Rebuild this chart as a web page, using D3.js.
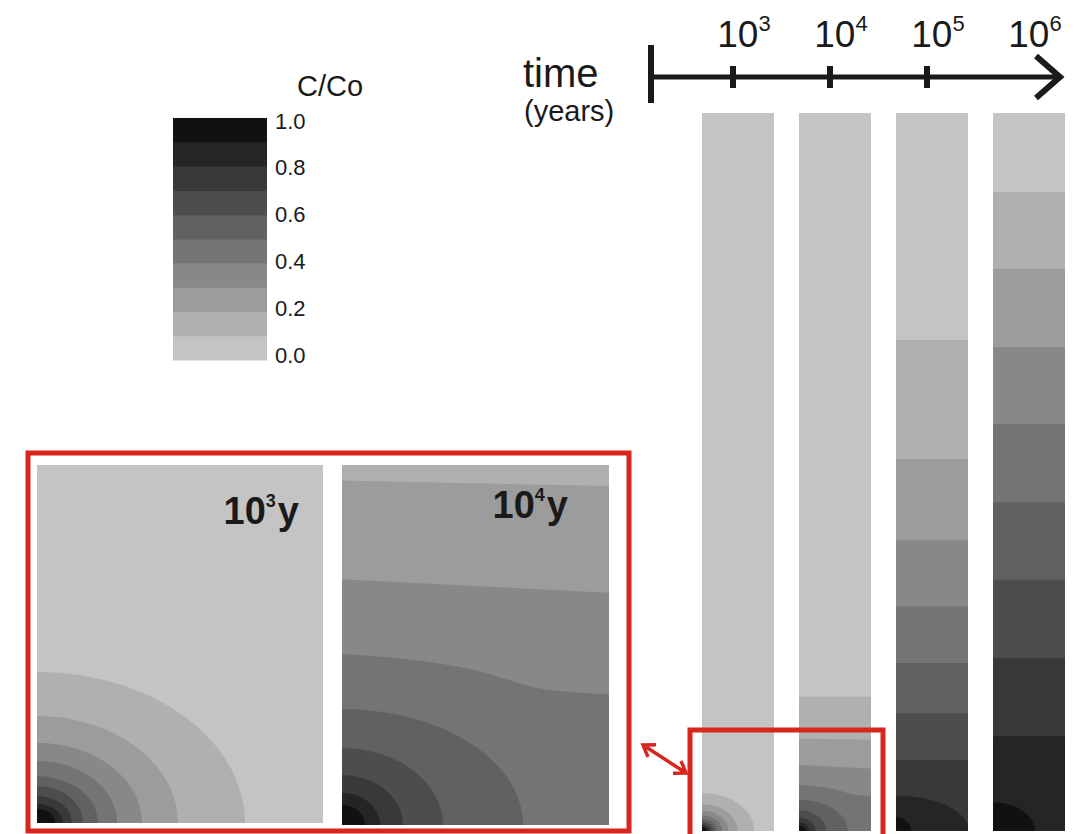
<!DOCTYPE html>
<html>
<head>
<meta charset="utf-8">
<script src="https://cdn.jsdelivr.net/npm/d3@7"></script>
<style>
  body { margin: 0; background: #fff; }
  text { font-family: "Liberation Sans", Arial, sans-serif; fill: #1a1a1a; }
</style>
</head>
<body>
<script>
// time steps (years) and the exponent shown on the axis
var times = [1e3, 1e4, 1e5, 1e6];
var exponents = ["3", "4", "5", "6"];

// C/Co contour levels (lower bound of each shaded band) and legend labels
var levels = [0, 0.1, 0.2, 0.3, 0.4, 0.5, 0.6, 0.7, 0.8, 0.9];
var legendTicks = [0, 0.2, 0.4, 0.6, 0.8, 1.0];

// horizontal fronts: height above source (m) sampled across the width, for levels 0.1, 0.2 ...
var fronts3 = [];
var fronts4 = [[18.7, 18.7], [12.9, 12.7], [9.2, 8.7], [6.4, 6.2, 5.8, 5.1, 4.9]];
var fronts5 = [[68.4], [51.8], [40.5], [31.3], [23.4], [16.4], [9.9]];
var fronts6 = [[89.0], [78.3], [67.4], [56.7], [45.8], [35.0], [24.1], [13.2]];

// plume rings round the source [rx, ry] (m) for the remaining levels
var rings3 = [[7.27, 5.28], [4.93, 3.74], [3.67, 2.8], [2.8, 2.17], [2.13, 1.64],
  [1.61, 1.29], [1.22, 0.94], [0.91, 0.66], [0.63, 0.49]];
var rings4 = [[6.78, 4.34], [3.78, 2.88], [2.28, 1.87], [1.42, 1.2], [0.86, 0.75]];
var rings5 = [[10.1, 4.9], [2.1, 1.9]];
var rings6 = [[5.8, 4.0]];

var fronts = [fronts3, fronts4, fronts5, fronts6];
var rings = [rings3, rings4, rings5, rings6];

var red = "#d8261f";

var svg = d3.select("body").append("svg")
  .attr("width", 1075)
  .attr("height", 834);

var defs = svg.append("defs");

// grey ramp of the contour bands
var shade = d3.scaleLinear().domain([0, 0.9]).range(["#c4c4c4", "#111111"]);

// draws one contour field into a box given its x / y scales
function drawField(name, front, ring, x, y) {
  var x0 = x.range()[0], x1 = x.range()[1];
  var yTop = y.range()[1], yBot = y.range()[0];

  defs.append("clipPath").attr("id", name)
    .append("rect")
    .attr("x", x0).attr("y", yTop)
    .attr("width", x1 - x0).attr("height", yBot - yTop);

  var g = svg.append("g").attr("clip-path", "url(#" + name + ")");

  g.append("rect")
    .attr("x", x0).attr("y", yTop)
    .attr("width", x1 - x0).attr("height", yBot - yTop)
    .attr("fill", shade(levels[0]));

  var xMax = x.domain()[1];
  var area = d3.area()
    .x(function (d) { return x(d[0]); })
    .y0(y(0))
    .y1(function (d) { return y(d[1]); })
    .curve(d3.curveMonotoneX);

  front.forEach(function (h, i) {
    var pts = h.length === 1 ? [[0, h[0]], [xMax, h[0]]]
      : h.map(function (v, j) { return [j * xMax / (h.length - 1), v]; });
    g.append("path")
      .attr("d", area(pts))
      .attr("fill", shade(levels[i + 1]));
  });

  var line = d3.line()
    .x(function (d) { return x(d[0]); })
    .y(function (d) { return y(d[1]); });

  ring.forEach(function (r, j) {
    var pts = [[0, 0]].concat(d3.range(0, 91, 3).map(function (a) {
      var t = a * Math.PI / 180;
      return [r[0] * Math.cos(t), r[1] * Math.sin(t)];
    }));
    g.append("path")
      .attr("d", line(pts) + "Z")
      .attr("fill", shade(levels[front.length + j + 1]));
  });
}

// main columns
var colLeft = d3.scalePoint().domain(times).range([702, 993]);
var colWidth = 72;

times.forEach(function (t, i) {
  var x = d3.scaleLinear().domain([0, 10]).range([colLeft(t), colLeft(t) + colWidth]);
  var y = d3.scaleLinear().domain([0, 100]).range([831, 113]);
  drawField("col" + i, fronts[i], rings[i], x, y);
});

// zoomed panels of the first two columns
var panels = [
  { x0: 37, x1: 323, y0: 465, y1: 823, label: "3", lx: 299, ly: 524 },
  { x0: 342, x1: 609, y0: 465, y1: 825, label: "4", lx: 568, ly: 518 }
];

panels.forEach(function (p, i) {
  var x = d3.scaleLinear().domain([0, 10]).range([p.x0, p.x1]);
  var yTop = (p.y1 - p.y0) / (p.x1 - p.x0) * 10;
  var y = d3.scaleLinear().domain([0, yTop]).range([p.y1, p.y0]);
  drawField("panel" + i, fronts[i], rings[i], x, y);

  var lab = svg.append("text")
    .attr("x", p.lx).attr("y", p.ly)
    .attr("text-anchor", "end")
    .style("font-size", "38px")
    .style("font-weight", "bold");
  lab.append("tspan").text("10");
  lab.append("tspan").attr("dy", -17).style("font-size", "18px").text(p.label);
  lab.append("tspan").attr("dy", 17).attr("dx", 2).text("y");
});

// red frames and the double arrow between them
svg.append("rect")
  .attr("x", 28).attr("y", 453).attr("width", 601).attr("height", 378)
  .attr("fill", "none").attr("stroke", red).attr("stroke-width", 5);

svg.append("rect")
  .attr("x", 690).attr("y", 730).attr("width", 193).attr("height", 120)
  .attr("fill", "none").attr("stroke", red).attr("stroke-width", 5);

var a0 = [643, 745], a1 = [686, 773];
var ang = Math.atan2(a1[1] - a0[1], a1[0] - a0[0]);
function head(p, dir) {
  var len = 13, spread = 0.6;
  var b = ang + (dir > 0 ? Math.PI : 0);
  return "M" + (p[0] + len * Math.cos(b - spread)) + "," + (p[1] + len * Math.sin(b - spread)) +
    "L" + p[0] + "," + p[1] +
    "L" + (p[0] + len * Math.cos(b + spread)) + "," + (p[1] + len * Math.sin(b + spread));
}
svg.append("path")
  .attr("d", "M" + a0 + "L" + a1 + head(a1, 1) + head(a0, -1))
  .attr("fill", "none").attr("stroke", red).attr("stroke-width", 3.5);

// time axis
var tickX = d3.scaleLog().domain([1e3, 1e6]).range([733, 1024]);
var axisY = 77;

svg.append("line")
  .attr("x1", 651).attr("x2", 1058).attr("y1", axisY).attr("y2", axisY)
  .attr("stroke", "#1a1a1a").attr("stroke-width", 5);
svg.append("line")
  .attr("x1", 651).attr("x2", 651).attr("y1", 45).attr("y2", 103)
  .attr("stroke", "#1a1a1a").attr("stroke-width", 6);
svg.append("path")
  .attr("d", "M1036,56L1060," + axisY + "L1036,98")
  .attr("fill", "none").attr("stroke", "#1a1a1a").attr("stroke-width", 6);

svg.selectAll(".tick-mark")
  .data(times.slice(0, 3))
  .enter()
  .append("line")
  .attr("x1", function (d) { return tickX(d); })
  .attr("x2", function (d) { return tickX(d); })
  .attr("y1", axisY - 11).attr("y2", axisY + 11)
  .attr("stroke", "#1a1a1a").attr("stroke-width", 6);

var tickLabels = svg.selectAll(".tick-label")
  .data(times)
  .enter()
  .append("text")
  .attr("x", function (d) { return colLeft(d) + colWidth / 2 + 6; })
  .attr("y", 47)
  .attr("text-anchor", "middle")
  .style("font-size", "37px");
tickLabels.append("tspan").text("10");
tickLabels.append("tspan")
  .attr("dy", -16)
  .style("font-size", "22px")
  .text(function (d, i) { return exponents[i]; });

svg.append("text").attr("x", 523).attr("y", 87).style("font-size", "40px").text("time");
svg.append("text").attr("x", 524).attr("y", 121).style("font-size", "29px").text("(years)");

// legend
var legendY = d3.scaleLinear().domain([0, 1]).range([360, 118]);
var labelY = d3.scaleLinear().domain([0, 1]).range([355, 121]);

svg.selectAll(".swatch")
  .data(levels)
  .enter()
  .append("rect")
  .attr("x", 173)
  .attr("width", 94)
  .attr("y", function (d) { return legendY(d + 0.1); })
  .attr("height", function (d) { return legendY(d) - legendY(d + 0.1) + 0.5; })
  .attr("fill", function (d) { return shade(d); });

var legendAxis = svg.append("g")
  .attr("transform", "translate(267,0)")
  .call(d3.axisRight(labelY).tickValues(legendTicks).tickSize(0).tickPadding(8)
    .tickFormat(d3.format(".1f")));
legendAxis.select(".domain").remove();
legendAxis.selectAll("text")
  .style("font-size", "22px")
  .style("font-family", "Liberation Sans, Arial, sans-serif")
  .attr("fill", "#1a1a1a");

svg.append("text").attr("x", 297).attr("y", 96).style("font-size", "29px").text("C/Co");
</script>
</body>
</html>
